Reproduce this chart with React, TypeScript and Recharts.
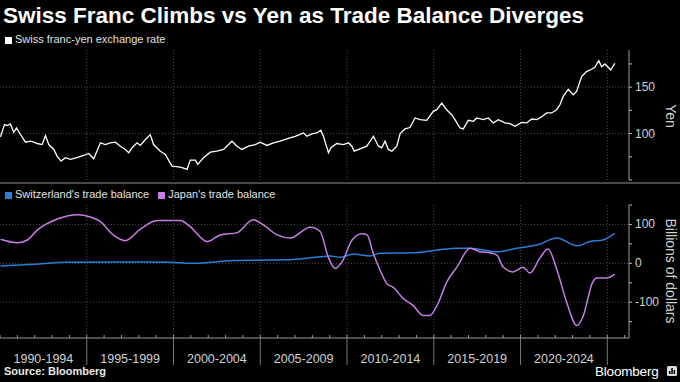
import { LineChart, Line, XAxis, YAxis, CartesianGrid } from "recharts"

// Swiss franc-yen exchange rate (yen per franc)
const fxYears = [
  1990.03, 1990.26, 1990.41, 1990.6, 1990.79, 1990.95, 1991.18, 1991.47, 1991.76, 1991.95,
  1992.14, 1992.43, 1992.62, 1992.81, 1993.1, 1993.29, 1993.52, 1993.77, 1994.06, 1994.44,
  1994.82, 1995.11, 1995.4, 1995.79, 1996.07, 1996.36, 1996.65, 1996.94, 1997.22, 1997.42,
  1997.61, 1997.9, 1998.09, 1998.38, 1998.66, 1998.85, 1999.24, 1999.53, 1999.91, 2000.2,
  2000.49, 2000.78, 2000.97, 2001.26, 2001.39, 2001.73, 2002.12, 2002.5, 2002.88, 2003.37,
  2003.66, 2003.94, 2004.32, 2004.71, 2005.0, 2005.38, 2005.76, 2006.15, 2006.53, 2007.01,
  2007.49, 2007.69, 2007.97, 2008.26, 2008.49, 2008.64, 2008.93, 2009.07, 2009.41, 2009.79,
  2010.08, 2010.28, 2010.41, 2010.75, 2011.14, 2011.52, 2011.81, 2012.0, 2012.19, 2012.38,
  2012.58, 2012.87, 2013.06, 2013.34, 2013.63, 2013.92, 2014.21, 2014.59, 2014.97, 2015.17,
  2015.46, 2015.74, 2016.03, 2016.22, 2016.51, 2016.7, 2016.99, 2017.28, 2017.47, 2017.85,
  2018.14, 2018.43, 2018.72, 2019.1, 2019.39, 2019.68, 2020.06, 2020.35, 2020.64, 2020.93,
  2021.21, 2021.5, 2021.79, 2022.08, 2022.27, 2022.46, 2022.75, 2023.04, 2023.23, 2023.52,
  2023.8, 2024.09, 2024.28, 2024.51, 2024.67, 2024.86, 2025.05, 2025.19, 2025.44,
]
const fxRates = [
  96.5, 109.6, 108.6, 110.4, 101.4, 106, 99, 90.7, 91.8, 90.7,
  89.3, 88.2, 97.9, 88.2, 82.9, 75.7, 70.4, 74, 72.2, 74,
  76.4, 78.6, 72.9, 90, 88.2, 90, 90.7, 86.4, 82.9, 79.3,
  84.7, 90, 87.2, 93.6, 98.9, 88.2, 81, 77.5, 65, 64.3,
  63.3, 61.5, 71.4, 71.4, 66.8, 74, 80, 81, 82.9, 91.8,
  86.4, 82.9, 86.4, 88.2, 90.7, 87.2, 90, 91.8, 94.3, 97.1,
  100.7, 97.1, 99.6, 100.7, 103.6, 97.1, 79.3, 84.7, 89.3, 88.2,
  90, 86.4, 81, 83.6, 86.4, 97.1, 86.4, 84.7, 91.8, 82.9,
  81, 86.4, 100, 105, 106.5, 116.8, 115, 114.3, 124, 125.7,
  132.9, 125.7, 120.3, 115, 106, 105, 114.3, 113.2, 116.8, 115,
  116.8, 111.5, 115, 111.5, 110.7, 107.8, 112.1, 111.5, 115.7, 115,
  117.9, 122.2, 122.2, 125.7, 131, 140, 147.8, 141.8, 145.3, 161.4,
  166.7, 169.3, 171.4, 178.5, 172, 175, 171.4, 168.5, 175.7,
]

// Trade balances, billions of dollars (12-month sums)
const swissYears = [
  1990.03, 1991.93, 1993.89, 1997.68, 1999.64, 2001.14, 2003.44, 2005.4, 2006.9, 2008.45,
  2009.03, 2009.6, 2010.35, 2011.33, 2011.9, 2013.8, 2015.19, 2016.34, 2017.09, 2018.64,
  2019.79, 2020.94, 2022.1, 2023.25, 2024.0, 2024.74, 2025.43,
]
const swissBalance = [
  -7, -2.6, 2.6, 3.4, 2.6, 0, 7, 8.5, 10, 17,
  19, 15.5, 24, 19, 26, 27, 34, 39, 39, 30,
  39, 47, 65, 45, 56, 60, 77,
]
const japanYears = [
  1990.03, 1991.01, 1991.58, 1992.16, 1993.31, 1994.46, 1995.21, 1995.79, 1996.53, 1997.22,
  1998.09, 1999.07, 2000.39, 2000.97, 2001.95, 2002.69, 2003.67, 2004.59, 2005.17, 2005.98,
  2006.72, 2007.88, 2008.45, 2008.91, 2009.31, 2009.77, 2010.29, 2010.87, 2011.16, 2011.5,
  2011.9, 2012.31, 2012.65, 2013.23, 2013.8, 2014.38, 2014.78, 2015.19, 2015.76, 2016.34,
  2017.09, 2017.66, 2018.24, 2018.64, 2018.99, 2019.56, 2020.14, 2020.54, 2021.12, 2021.58,
  2022.1, 2022.67, 2023.25, 2023.59, 2024.17, 2024.4, 2024.97, 2025.43,
]
const japanBalance = [
  62, 53, 60, 86, 114, 125, 119, 107, 73, 58,
  88, 110, 110, 94, 56, 73, 79, 112, 99, 73,
  65, 93, 82, 17, -13, 8.5, 60, 76, 73, 27,
  -17, -53, -61, -90, -108, -134, -134, -108, -47, -9,
  39, 30, 27, 21, -9, -22, -10, -25, 14, 37,
  -17, -102, -160, -138, -47, -38, -38, -28,
]

const periodMids = [1992.5, 1997.5, 2002.5, 2007.5, 2012.5, 2017.5, 2022.5]
const periodLabels = ["1990-1994", "1995-1999", "2000-2004", "2005-2009", "2010-2014", "2015-2019", "2020-2024"]
const gridYears = [1995, 2000, 2005, 2010, 2015, 2020, 2025]
const yenTicks = [50, 75, 100, 125, 150, 175]
const yenLabelled = [100, 150]
const balanceTicks = [-150, -100, -50, 0, 50, 100, 150]
const balanceLabelled = [-100, 0, 100]

const yearTicks: number[] = []
for (let y = 1990; y <= 2026; y++) yearTicks.push(y)
const xTicks = [...yearTicks, ...periodMids].sort((a, b) => a - b)

const fxData = fxYears.map((year, i) => ({ year, rate: fxRates[i] }))
const swissData = swissYears.map((year, i) => ({ year, swiss: swissBalance[i] }))
const japanData = japanYears.map((year, i) => ({ year, japan: japanBalance[i] }))

const FONT = "'Liberation Sans', Arial, sans-serif"
const X_DOMAIN: [number, number] = [1990, 2026.25]
const BLUE = "#2a7fd6"
const PURPLE = "#c67ee6"

function yTick(labelled: number[]) {
  return (props: any) => {
    const { x, y, payload } = props
    if (!labelled.includes(payload.value)) return <g />
    return (
      <text x={x} y={y} dy={4} fill="#d0d0d0" fontSize={12} fontFamily={FONT} textAnchor="start">
        {payload.value}
      </text>
    )
  }
}

function PeriodTick(props: any) {
  const { x, y, payload } = props
  const v = payload.value
  if (!Number.isInteger(v)) {
    const idx = periodMids.indexOf(v)
    return (
      <text x={x} y={y + 25} textAnchor="middle" fill="#d0d0d0" fontSize={12.5} fontFamily={FONT}>
        {periodLabels[idx]}
      </text>
    )
  }
  return (
    <g>
      <line x1={x} x2={x} y1={y} y2={y - 3} stroke="#999" />
      {v % 5 === 0 && v > 1990 && <line x1={x} x2={x} y1={y} y2={y + 27} stroke="#777" />}
    </g>
  )
}

const legendText: React.CSSProperties = { color: "#e0e0e0", fontSize: 11, fontFamily: FONT }
const square = (c: string): React.CSSProperties => ({
  display: "inline-block", width: 7, height: 7, background: c, marginRight: 3, verticalAlign: "middle",
})
const axisTitle: React.CSSProperties = {
  position: "absolute", transform: "translate(-50%, -50%) rotate(90deg)", color: "#d0d0d0",
  fontSize: 14, fontFamily: FONT, whiteSpace: "nowrap",
}

export default function App() {
  return (
    <div style={{ position: "fixed", left: 0, top: 0, width: 680, height: 382, background: "#000", overflow: "hidden" }}>
      <div style={{ position: "absolute", left: 3, top: 3, color: "#fff", fontSize: 22.5, fontWeight: 700, fontFamily: FONT }}>
        Swiss Franc Climbs vs Yen as Trade Balance Diverges
      </div>
      <div style={{ position: "absolute", left: 5, top: 33, ...legendText }}>
        <span style={square("#fff")} />Swiss franc-yen exchange rate
      </div>

      <div style={{ position: "absolute", left: 0, top: 0 }}>
        <LineChart width={680} height={182} data={fxData} margin={{ top: 50, right: 0, bottom: 2, left: 0 }}>
          <CartesianGrid stroke="#4a4a4a" strokeDasharray="1 2" horizontalValues={[100, 150]} verticalValues={gridYears} />
          <XAxis dataKey="year" type="number" domain={X_DOMAIN} allowDataOverflow hide />
          <YAxis
            orientation="right"
            width={51}
            domain={[50, 190]}
            allowDataOverflow
            ticks={yenTicks}
            interval={0}
            tickSize={3}
            tickMargin={3}
            axisLine={{ stroke: "#999" }}
            tickLine={{ stroke: "#bbb" }}
            tick={yTick(yenLabelled)}
          />
          <Line dataKey="rate" stroke="#fff" strokeWidth={1.3} dot={false} isAnimationActive={false} />
        </LineChart>
      </div>

      <div style={{ position: "absolute", left: 0, top: 182, width: 680, height: 2, background: "#4a4a4a" }} />

      <div style={{ position: "absolute", left: 5, top: 188, ...legendText }}>
        <span style={square(BLUE)} />Switzerland's trade balance
        <span style={{ ...square(PURPLE), marginLeft: 9 }} />Japan's trade balance
      </div>

      <div style={{ position: "absolute", left: 0, top: 183 }}>
        <LineChart width={680} height={190} margin={{ top: 22, right: 0, bottom: 0, left: 0 }}>
          <CartesianGrid stroke="#4a4a4a" strokeDasharray="1 2" horizontalValues={[-100, 0, 100]} verticalValues={gridYears} />
          <XAxis
            dataKey="year"
            type="number"
            domain={X_DOMAIN}
            allowDataOverflow
            ticks={xTicks}
            interval={0}
            height={35}
            tickSize={0}
            tickMargin={0}
            tickLine={false}
            axisLine={{ stroke: "#999" }}
            tick={PeriodTick}
          />
          <YAxis
            orientation="right"
            width={51}
            domain={[-192, 150]}
            allowDataOverflow
            ticks={balanceTicks}
            interval={0}
            tickSize={3}
            tickMargin={3}
            axisLine={{ stroke: "#999" }}
            tickLine={{ stroke: "#bbb" }}
            tick={yTick(balanceLabelled)}
          />
          <Line data={swissData} dataKey="swiss" type="monotone" stroke={BLUE} strokeWidth={1.5} dot={false} isAnimationActive={false} />
          <Line data={japanData} dataKey="japan" type="monotone" stroke={PURPLE} strokeWidth={1.5} dot={false} isAnimationActive={false} />
        </LineChart>
      </div>

      <div style={{ ...axisTitle, left: 671, top: 116 }}>Yen</div>
      <div style={{ ...axisTitle, left: 671, top: 271 }}>Billions of dollars</div>

      <div style={{ position: "absolute", left: 4, top: 365, color: "#e8e8e8", fontSize: 11, fontWeight: 700, fontFamily: FONT }}>
        Source: Bloomberg
      </div>
      <div style={{ position: "absolute", left: 595, top: 364, color: "#fff", fontSize: 13.5, fontFamily: FONT, letterSpacing: -0.2 }}>
        Bloomberg
      </div>
      <svg style={{ position: "absolute", left: 667, top: 366 }} width={10} height={10}>
        <rect x={0} y={0} width={10} height={10} rx={1.5} fill="#ddd" />
        <rect x={2} y={5} width={1.5} height={3} fill="#000" />
        <rect x={4.3} y={2} width={1.5} height={6} fill="#000" />
        <rect x={6.6} y={4} width={1.5} height={4} fill="#000" />
      </svg>
    </div>
  )
}
